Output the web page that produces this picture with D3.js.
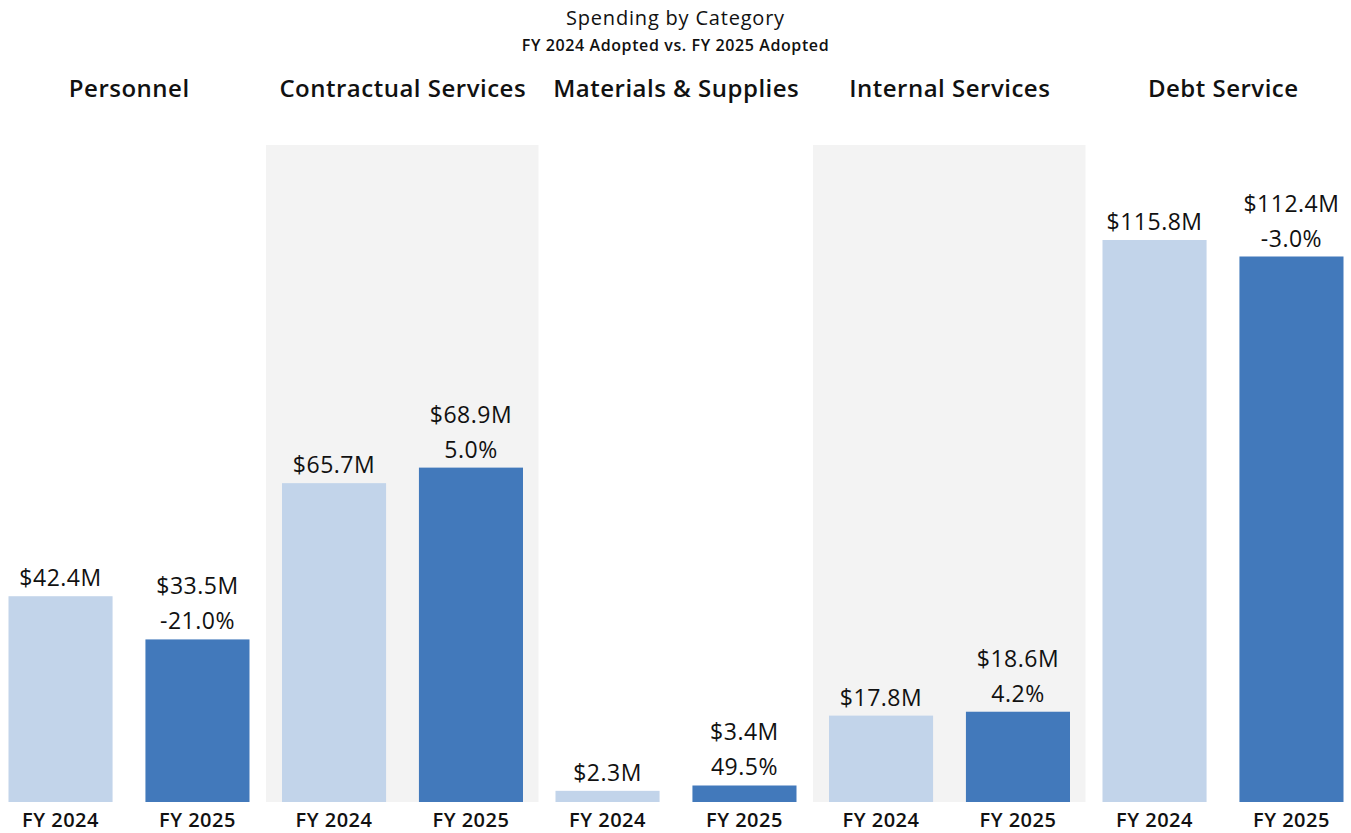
<!DOCTYPE html>
<html>
<head>
<meta charset="utf-8">
<script src="https://cdn.jsdelivr.net/npm/d3@7"></script>
<style>
  body { margin: 0; background: #fff; }
  text { font-family: "Open Sans", Lato, sans-serif; fill: #111; }
</style>
</head>
<body>
<div id="chart"></div>
<script>
var categories = ["Personnel", "Contractual Services", "Materials & Supplies", "Internal Services", "Debt Service"];
var years = ["FY 2024", "FY 2025"];
var fy2024 = [42.4, 65.7, 2.3, 17.8, 115.8];
var fy2025 = [33.5, 68.9, 3.4, 18.6, 112.4];
var pctChange = ["-21.0%", "5.0%", "49.5%", "4.2%", "-3.0%"];

var width = 1351;
var height = 833;
var base_y = 802;
var top_y = 240;
var panel_top = 145;

var svg = d3.select("#chart").append("svg")
            .attr("width", width)
            .attr("height", height);

var xPanel = d3.scaleBand().domain(categories).range([-7.5, 1360]);
var xBar = d3.scaleBand().domain(years).range([16, 257]).paddingInner(0.24).paddingOuter(0);
var yScale = d3.scaleLinear().domain([0, d3.max(fy2024)]).range([base_y, top_y]);
var colors = {"FY 2024": "#c2d4ea", "FY 2025": "#4279bb"};

// title
svg.append("text")
    .attr("x", width / 2)
    .attr("y", 25)
    .attr("text-anchor", "middle")
    .style("font-size", "20px")
    .style("letter-spacing", "0.8px")
    .text("Spending by Category");
svg.append("text")
    .attr("x", width / 2)
    .attr("y", 51)
    .attr("text-anchor", "middle")
    .style("font-size", "16px")
    .style("font-weight", "600")
    .style("letter-spacing", "0.6px")
    .text("FY 2024 Adopted vs. FY 2025 Adopted");

var panels = svg.selectAll("g.panel")
    .data(categories)
    .enter().append("g")
    .attr("class", "panel")
    .attr("transform", function(d){ return "translate(" + xPanel(d) + ",0)"; });

// shaded background on every other panel
panels.filter(function(d, i){ return i % 2 == 1; })
    .append("rect")
    .attr("x", 0)
    .attr("y", panel_top)
    .attr("width", xPanel.bandwidth() - 1)
    .attr("height", base_y - panel_top)
    .attr("fill", "#f3f3f3");

panels.append("text")
    .attr("x", xPanel.bandwidth() / 2)
    .attr("y", 97)
    .attr("text-anchor", "middle")
    .style("font-size", "24px")
    .style("font-weight", "600")
    .style("letter-spacing", "0.5px")
    .text(function(d){ return d; });

panels.each(function(cat, i){
    var g = d3.select(this);
    var vals = [fy2024[i], fy2025[i]];
    years.forEach(function(yr, j){
        var v = vals[j];
        var bx = xBar(yr);
        var cx = bx + xBar.bandwidth() / 2;
        g.append("rect")
            .attr("x", bx)
            .attr("y", yScale(v))
            .attr("width", xBar.bandwidth())
            .attr("height", base_y - yScale(v))
            .attr("fill", colors[yr]);
        g.append("text")
            .attr("x", cx)
            .attr("y", 827)
            .attr("text-anchor", "middle")
            .style("font-size", "20px")
            .style("font-weight", "600")
            .style("letter-spacing", "0.5px")
            .text(yr);
        var lab = g.append("text")
            .attr("x", cx)
            .attr("y", yScale(v) - 10)
            .attr("text-anchor", "middle")
            .style("font-size", "23px")
            .style("letter-spacing", "0.5px");
        if (j == 0) {
            lab.text("$" + v.toFixed(1) + "M");
        } else {
            lab.text(pctChange[i]);
            g.append("text")
                .attr("x", cx)
                .attr("y", yScale(v) - 45)
                .attr("text-anchor", "middle")
                .style("font-size", "23px")
                .style("letter-spacing", "0.5px")
                .text("$" + v.toFixed(1) + "M");
        }
    });
});
</script>
</body>
</html>
